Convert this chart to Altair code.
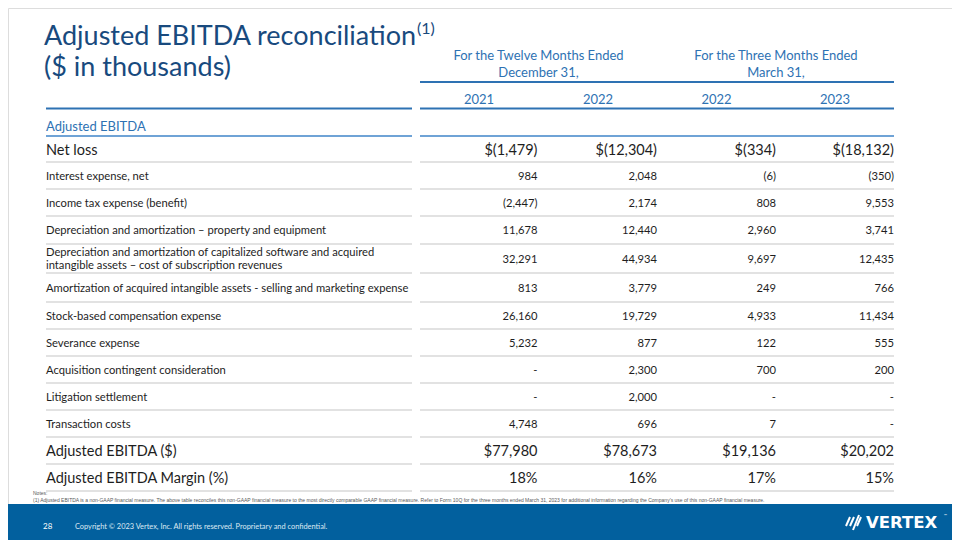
import altair as alt
import pandas as pd

# ---------------- data ----------------
labels = [
    "Net loss",
    "Interest expense, net",
    "Income tax expense (benefit)",
    "Depreciation and amortization – property and equipment",
    "Depreciation and amortization of capitalized software and acquired\nintangible assets – cost of subscription revenues",
    "Amortization of acquired intangible assets - selling and marketing expense",
    "Stock-based compensation expense",
    "Severance expense",
    "Acquisition contingent consideration",
    "Litigation settlement",
    "Transaction costs",
    "Adjusted EBITDA ($)",
    "Adjusted EBITDA Margin (%)",
]
fy2021 = ["$(1,479)", "984", "(2,447)", "11,678", "32,291", "813", "26,160", "5,232", "-", "-", "4,748", "$77,980", "18%"]
fy2022 = ["$(12,304)", "2,048", "2,174", "12,440", "44,934", "3,779", "19,729", "877", "2,300", "2,000", "696", "$78,673", "16%"]
q1_2022 = ["$(334)", "(6)", "808", "2,960", "9,697", "249", "4,933", "122", "700", "-", "7", "$19,136", "17%"]
q1_2023 = ["$(18,132)", "(350)", "9,553", "3,741", "12,435", "766", "11,434", "555", "200", "-", "-", "$20,202", "15%"]
emphasis_rows = ["Net loss", "Adjusted EBITDA ($)", "Adjusted EBITDA Margin (%)"]
years = ["2021", "2022", "2022", "2023"]
groups = ["For the Twelve Months Ended\nDecember 31,", "For the Three Months Ended\nMarch 31,"]
section_label = "Adjusted EBITDA"
title_lines = ["Adjusted EBITDA reconciliation", "($ in thousands)"]
title_note = "(1)"
notes_head = "Notes:"
notes_text = ("(1)  Adjusted EBITDA is a non-GAAP financial measure. The above table reconciles this non-GAAP financial "
              "measure to the most directly comparable GAAP financial measure. Refer to Form 10Q for the three months ended "
              "March 31, 2023 for additional information regarding the Company\u2019s use of this non-GAAP financial measure.")
page_no = "28"
copyright_text = "Copyright © 2023 Vertex, Inc. All rights reserved. Proprietary and confidential."
logo_text = "VERTEX"

# ---------------- layout ----------------
FONT = "Lato"
NAVY = "#184a7e"
BLUE = "#2e72b3"
LIGHTBLUE = "#6fa3d6"
INK = "#1e1e1e"
GRID = "#d9d9d9"
FOOT = "#02609e"

col_right = [537.5, 657, 776, 894]
col_center = [479, 598, 716.5, 835]
group_center = [538.5, 776]
label_x = 46
lab_l, lab_r = 46, 412
val_l, val_r = 420, 894
row_bottoms = [162, 189, 216, 244, 273, 302, 329, 356, 383, 410, 437, 464, 491]
row_tops = [136] + row_bottoms[:-1]

texts = []
def add(x, y, t, s, c, align="left", font=FONT, weight="normal"):
    texts.append(dict(x=x, y=y, t=t, s=s, c=c, align=align, font=font, weight=weight))

# title
add(44, 44.5, title_lines[0], 27, NAVY)
add(44, 75.5, title_lines[1], 27, NAVY)
add(417, 33.5, title_note, 16, NAVY)

# group headers
for gc, g in zip(group_center, groups):
    l1, l2 = g.split("\n")
    add(gc, 60, l1, 13, BLUE, "center")
    add(gc, 77, l2, 13, BLUE, "center")
for cc, yv in zip(col_center, years):
    add(cc, 104, yv, 13, BLUE, "center")
add(label_x, 131, section_label, 13, BLUE)

# rows
cols = [fy2021, fy2022, q1_2022, q1_2023]
for i, lab in enumerate(labels):
    mid = (row_tops[i] + row_bottoms[i]) / 2
    big = lab in emphasis_rows
    size = 14.5 if big else 11.2
    off = 5.5 if big else 4.3
    parts = lab.split("\n")
    if len(parts) == 1:
        add(label_x, mid + off, lab, size, INK)
    else:
        add(label_x, mid - 2.5, parts[0], size, INK)
        add(label_x, mid + 10.5, parts[1], size, INK)
    for cr, col in zip(col_right, cols):
        add(cr, mid + off, col[i], size, INK, "right")

# notes
add(33, 494.5, notes_head, 5.0, "#595959", font="Liberation Sans")
add(33, 501.5, notes_text, 5.0, "#595959", font="Liberation Sans")

# footer
add(43, 529, page_no, 8, "#ffffff")
add(75, 529, copyright_text, 7.4, "#dce8f3")
add(866, 528, logo_text, 16.5, "#ffffff", font="DejaVu Sans", weight="bold")
add(944, 517, "™", 4, "#ffffff")

tdf = pd.DataFrame(texts)

rules = []
def rule(x, x2, y, y2, c, w):
    rules.append(dict(x=x, x2=x2, y=y, y2=y2, c=c, w=w))

rule(val_l, val_r, 82, 82, BLUE, 2)
rule(lab_l, lab_r, 108.5, 108.5, BLUE, 2)
rule(val_l, val_r, 108.5, 108.5, BLUE, 2)
rule(lab_l, lab_r, 136, 136, LIGHTBLUE, 2)
rule(val_l, val_r, 136, 136, LIGHTBLUE, 2)
for yb in row_bottoms:
    rule(lab_l, lab_r, yb, yb, GRID, 1.5)
    rule(val_l, val_r, yb, yb, GRID, 1.5)
# logo mark strokes
rule(846, 850, 526, 517, "#ffffff", 2)
rule(850, 854, 526, 517, "#ffffff", 2)
rule(853, 859, 530, 515, "#ffffff", 2)
rule(857, 861, 526, 517, "#ffffff", 2)
rdf = pd.DataFrame(rules)

W, H = 944, 532
xs = alt.Scale(domain=[8, 8 + W], nice=False, zero=False)
ys = alt.Scale(domain=[8 + H, 8], nice=False, zero=False)

band = alt.Chart(pd.DataFrame([dict(x=8, x2=8 + W, y=504, y2=8 + H)])).mark_rect(color=FOOT).encode(
    x=alt.X("x:Q", scale=xs, axis=None), x2="x2:Q",
    y=alt.Y("y:Q", scale=ys, axis=None), y2="y2:Q")

rule_layer = alt.Chart(rdf).mark_rule().encode(
    x=alt.X("x:Q", scale=xs, axis=None), x2="x2:Q",
    y=alt.Y("y:Q", scale=ys, axis=None), y2="y2:Q",
    color=alt.Color("c:N", scale=None),
    strokeWidth=alt.StrokeWidth("w:Q", scale=None))

layers = [band, rule_layer]
for (align, font, weight), sub in tdf.groupby(["align", "font", "weight"]):
    layers.append(
        alt.Chart(sub).mark_text(align=align, baseline="alphabetic", font=font, fontWeight=weight).encode(
            x=alt.X("x:Q", scale=xs, axis=None),
            y=alt.Y("y:Q", scale=ys, axis=None),
            text="t:N",
            color=alt.Color("c:N", scale=None),
            size=alt.Size("s:Q", scale=None),
        )
    )

chart = alt.layer(*layers).properties(
    width=W, height=H, padding=0, autosize=alt.AutoSizeParams(type="none")
).configure_view(stroke=None).configure(background="#ffffff")

chart.save("out.html", embed_options={"renderer": "svg", "actions": False})
